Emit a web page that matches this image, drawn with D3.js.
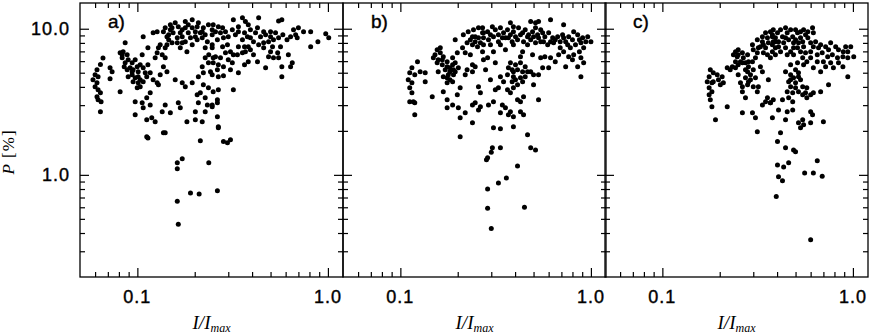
<!DOCTYPE html>
<html><head><meta charset="utf-8">
<script src="https://cdn.jsdelivr.net/npm/d3@7"></script>
<style>body{margin:0;background:#fff}svg{display:block}</style>
</head><body>
<script>
// ---- data ----
const panelLabels = ["a)", "b)", "c)"];
const xDomain = [0.05, 1.2];
const yDomain = [0.2, 15];
const xMajorTicks = [0.1, 1.0];
const xTickLabels = ["0.1", "1.0"];
const xMinorTicks = [0.06, 0.07, 0.08, 0.09, 0.2, 0.3, 0.4, 0.5, 0.6, 0.7, 0.8, 0.9];
const yMajorTicks = [1, 10];
const yTickLabels = ["1.0", "10.0"];
const yMinorTicks = [0.3, 0.4, 0.5, 0.6, 0.7, 0.8, 0.9, 2, 3, 4, 5, 6, 7, 8, 9];

const seriesA = [
[0.066,6.3],[0.064,5.7],[0.0614,5.24],[0.060,4.84],[0.0622,4.69],[0.0585,4.47],[0.0614,4.27],[0.060,4.01],[0.0622,3.82],[0.064,3.65],
[0.0614,3.42],[0.0622,3.26],[0.0645,3.16],[0.064,2.70],[0.0719,5.41],[0.0737,5.07],[0.0719,4.55],[0.0812,3.70],[0.0863,8.02],[0.0812,6.85],
[0.0842,6.96],[0.0884,6.64],[0.0832,6.33],[0.0895,6.13],[0.0863,5.85],[0.0939,5.85],[0.0974,6.13],[0.0916,5.41],[0.0884,5.24],[0.095,5.24],
[0.0998,5.49],[0.1035,5.67],[0.1073,5.41],[0.0939,4.84],[0.0974,4.62],[0.101,4.69],[0.095,4.34],[0.101,4.27],[0.1035,4.01],[0.1073,4.34],
[0.112,4.69],[0.1168,5.0],[0.1136,5.67],[0.106,6.64],[0.121,4.47],[0.127,4.27],[0.0974,3.16],[0.106,3.11],[0.112,3.37],[0.1168,3.65],
[0.1073,2.88],[0.1168,3.01],[0.0974,2.58],[0.112,2.38],[0.119,2.46],[0.124,2.31],[0.135,2.70],[0.149,2.66],[0.140,3.01],[0.164,3.11],
[0.168,2.88],[0.140,1.94],[0.1136,1.79],[0.214,1.71],[0.182,2.31],[0.2015,2.38],[0.219,2.31],[0.124,6.33],[0.127,6.85],[0.129,7.41],
[0.143,7.77],[0.135,6.64],[0.140,6.33],[0.1073,8.82],[0.121,9.39],[0.127,9.54],[0.140,10.16],[0.149,10.65],[0.158,11.0],[0.164,10.3],
[0.1785,11.2],[0.185,10.65],[0.194,11.5],[0.209,11.0],[0.222,10.16],[0.236,10.65],[0.247,9.84],[0.146,9.10],[0.154,9.39],[0.162,8.68],
[0.172,8.82],[0.1785,8.15],[0.152,8.02],[0.140,7.41],[0.194,7.77],[0.206,8.41],[0.219,8.68],[0.227,7.41],[0.247,7.77],[0.149,9.84],
[0.143,8.82],[0.172,9.84],[0.185,9.39],[0.2015,9.54],[0.214,9.39],[0.227,9.10],[0.182,6.96],[0.168,7.41],[0.227,6.33],[0.219,5.49],
[0.236,5.85],[0.250,6.33],[0.209,4.69],[0.222,5.0],[0.242,5.07],[0.222,4.14],[0.214,3.65],[0.236,3.95],[0.206,3.53],[0.227,3.37],
[0.209,3.11],[0.233,3.01],[0.247,2.92],[0.2015,2.70],[0.227,2.70],[0.172,4.27],[0.194,4.27],[0.1785,4.01],[0.129,4.14],[0.158,4.47],
[0.143,5.07],[0.137,5.49],[0.1318,4.84],[0.319,11.5],[0.356,11.9],[0.369,11.2],[0.433,11.9],[0.551,11.3],[0.573,11.5],[0.250,10.65],
[0.266,10.3],[0.280,10.16],[0.257,9.54],[0.273,9.39],[0.290,9.54],[0.247,9.10],[0.283,8.68],[0.263,8.41],[0.300,8.82],[0.315,9.84],
[0.327,9.10],[0.339,9.54],[0.365,9.39],[0.378,8.82],[0.356,8.41],[0.392,8.68],[0.417,9.39],[0.443,8.82],[0.471,9.10],[0.5,8.82],
[0.531,9.39],[0.58,9.10],[0.66,9.84],[0.70,10.16],[0.745,9.54],[0.812,9.54],[0.69,8.68],[0.974,9.25],[1.01,8.68],[0.886,8.15],
[0.812,7.53],[0.407,8.15],[0.433,7.77],[0.460,8.02],[0.488,8.15],[0.518,8.41],[0.551,8.68],[0.564,7.53],[0.460,7.41],[0.512,7.53],
[0.237,6.64],[0.257,6.43],[0.273,6.33],[0.290,6.85],[0.308,6.96],[0.319,6.64],[0.300,6.13],[0.315,5.85],[0.335,6.64],[0.356,6.85],
[0.369,6.96],[0.392,7.18],[0.407,6.64],[0.250,5.85],[0.266,5.67],[0.283,5.49],[0.263,5.24],[0.247,4.84],[0.266,4.69],[0.283,4.76],
[0.308,5.24],[0.339,5.0],[0.365,5.67],[0.382,5.94],[0.427,5.94],[0.471,5.41],[0.488,6.43],[0.518,6.33],[0.551,6.33],[0.5,6.96],
[0.545,6.85],[0.573,5.49],[0.573,4.69],[0.62,6.64],[0.65,5.85],[0.637,5.49],[0.250,3.70],[0.266,3.82],[0.319,3.82],[0.247,3.01],
[0.263,3.26],[0.263,3.11],[0.263,2.50],[0.266,2.10],[0.283,1.69],[0.297,1.66],[0.308,1.74],[0.112,1.82],[0.137,1.94],[0.172,1.29],
[0.162,1.21],[0.237,1.21],[0.266,2.13],[0.162,1.10],[0.190,0.75],[0.211,0.74],[0.263,0.78],[0.162,0.66],[0.164,0.46],
[0.137,9.54],[0.152,10.16],[0.168,9.39],[0.1785,10.16],[0.194,10.16],[0.206,10.3],[0.219,9.54],[0.162,8.02],[0.172,8.02],[0.190,8.68],
[0.2015,8.82],[0.233,8.15],[0.146,8.41],[0.1318,7.77],[0.1136,7.41],[0.0832,6.64],[0.0853,5.49],[0.0939,5.07],[0.101,5.07],[0.0895,4.69],
[0.0998,3.95],[0.1035,4.47],[0.110,5.0],[0.247,7.41],[0.280,7.53],[0.297,7.77],[0.339,7.53],[0.365,7.53],[0.382,7.53],[0.61,8.41],
[0.637,8.82],[0.677,9.10],[0.5,9.54],[0.46,9.54],[0.427,10.16],[0.392,9.84],[0.339,10.3],[0.382,10.65]
];

const seriesB = [
[0.194,8.41],[0.214,9.10],[0.227,9.54],[0.242,9.84],[0.239,8.82],[0.257,10.16],[0.270,9.39],[0.247,8.15],[0.263,8.02],[0.254,7.53],
[0.273,7.77],[0.219,6.85],[0.233,6.64],[0.270,6.96],[0.273,6.13],[0.156,7.18],[0.152,6.64],[0.162,6.85],[0.149,6.33],[0.158,6.13],
[0.168,6.43],[0.176,5.94],[0.166,5.67],[0.188,6.33],[0.194,5.85],[0.2015,5.41],[0.182,5.41],[0.172,5.24],[0.1785,4.84],[0.190,4.84],
[0.168,4.69],[0.182,4.47],[0.176,4.27],[0.194,5.07],[0.123,5.94],[0.115,5.41],[0.112,5.0],[0.119,4.84],[0.127,5.07],[0.135,5.0],
[0.135,4.34],[0.110,4.47],[0.115,4.27],[0.112,3.95],[0.115,3.65],[0.112,3.16],[0.117,3.16],[0.119,3.11],[0.119,2.58],[0.147,3.42],
[0.168,3.70],[0.176,3.26],[0.199,3.53],[0.206,3.95],[0.176,2.88],[0.188,3.01],[0.2015,2.88],[0.206,2.46],[0.219,2.66],[0.239,3.01],
[0.247,3.11],[0.239,2.27],[0.257,2.78],[0.219,4.84],[0.224,5.24],[0.239,5.07],[0.247,5.49],[0.239,5.67],[0.257,4.01],[0.263,3.65],
[0.206,1.82],[0.378,11.0],[0.392,10.3],[0.483,11.2],[0.512,11.0],[0.531,11.2],[0.614,11.5],[0.719,10.65],[0.512,10.16],[0.545,9.84],
[0.270,10.16],[0.287,9.54],[0.304,10.3],[0.315,9.84],[0.335,10.16],[0.348,9.39],[0.365,9.84],[0.378,9.10],[0.392,9.54],[0.417,10.16],
[0.438,9.39],[0.452,9.84],[0.471,9.10],[0.494,9.54],[0.525,9.10],[0.558,9.39],[0.573,8.82],[0.600,9.39],[0.630,8.68],[0.669,8.82],
[0.69,8.15],[0.719,8.68],[0.764,8.82],[0.812,9.54],[0.852,9.10],[0.905,8.68],[0.962,8.82],[1.0,8.15],[0.273,8.68],[0.290,8.41],
[0.308,8.82],[0.327,8.15],[0.356,8.68],[0.386,8.15],[0.412,8.41],[0.443,8.15],[0.483,8.41],[0.512,8.02],[0.545,8.15],[0.593,7.77],
[0.637,8.02],[0.755,7.77],[0.78,7.41],[0.83,7.77],[0.886,8.02],[0.916,7.41],[0.719,6.96],[0.764,6.43],[0.812,6.64],[0.886,6.33],
[0.916,5.85],[0.737,5.49],[0.852,5.49],[0.65,5.94],[0.677,6.64],[0.614,6.33],[0.573,6.43],[0.545,6.33],[0.494,6.64],[0.438,6.96],
[0.427,6.43],[0.356,7.18],[0.886,4.69],[0.287,6.33],[0.315,5.85],[0.280,5.24],[0.378,5.85],[0.402,5.67],[0.427,5.85],[0.452,5.49],
[0.386,5.24],[0.412,5.24],[0.365,4.84],[0.392,4.69],[0.427,4.62],[0.452,4.69],[0.386,4.34],[0.412,4.14],[0.483,5.07],[0.5,4.84],
[0.531,4.84],[0.5,4.14],[0.558,5.41],[0.600,5.41],[0.297,4.47],[0.315,3.82],[0.327,3.95],[0.365,3.82],[0.378,3.65],[0.392,3.95],
[0.443,3.42],[0.412,3.26],[0.427,3.16],[0.531,3.26],[0.308,3.16],[0.290,3.01],[0.343,3.01],[0.356,2.88],[0.378,2.70],[0.335,2.66],
[0.369,2.58],[0.427,2.70],[0.443,2.58],[0.263,2.92],[0.392,2.50],[0.308,2.10],[0.335,2.07],[0.392,2.13],[0.465,1.88],[0.304,1.53],
[0.335,1.53],[0.483,1.53],[0.512,1.48],[0.283,1.27],[0.412,1.15],[0.36,0.95],[0.327,0.88],[0.287,0.80],[0.287,0.59],[0.448,0.60],
[0.300,0.43],[0.300,1.43],[0.287,1.31],
[0.273,9.39],[0.297,9.10],[0.327,9.10],[0.343,8.68],[0.369,8.68],[0.402,8.82],[0.427,9.10],[0.465,8.82],[0.5,8.82],[0.531,8.68],
[0.564,8.15],[0.614,8.15],[0.65,8.41],[0.71,9.10],[0.737,8.15],[0.80,8.41],[0.87,8.41],[0.94,8.15],[0.87,6.96],[0.80,6.13],
[0.69,7.41],[0.465,7.77],[0.392,7.77],[0.335,7.77],[0.297,7.77],[0.308,6.96],[0.162,7.41],[0.156,5.85],[0.166,6.13],[0.176,5.49],
[0.188,5.67],[0.190,5.24],[0.182,5.07],[0.176,4.62],[0.188,4.34],[0.158,5.07],[0.224,8.02],[0.239,7.77],[0.247,8.82],[0.233,8.41],
[0.257,8.68],[0.212,7.41],[0.199,6.85],[0.369,5.41],[0.392,5.07],[0.438,5.07],[0.465,5.07],[0.402,4.47],[0.438,4.34],[0.348,4.34],
[0.335,4.69]
];

const seriesC = [
[0.1785,5.24],[0.185,5.0],[0.176,4.69],[0.194,4.84],[0.206,4.69],[0.172,4.34],[0.182,4.27],[0.2015,4.14],[0.209,4.27],[0.176,3.95],
[0.182,3.70],[0.176,3.53],[0.1785,3.26],[0.182,2.92],[0.190,2.38],[0.219,2.92],[0.219,5.41],[0.233,5.49],[0.242,5.41],[0.250,4.84],
[0.257,4.27],[0.263,4.01],[0.263,3.70],[0.273,3.37],[0.263,2.66],[0.297,2.66],[0.308,2.46],[0.315,1.97],[0.242,6.96],[0.250,7.18],
[0.263,6.85],[0.247,6.43],[0.266,6.33],[0.280,6.64],[0.257,5.94],[0.273,5.85],[0.283,5.49],[0.297,5.94],[0.308,6.33],[0.280,5.07],
[0.290,4.84],[0.273,4.62],[0.283,4.34],[0.300,5.24],[0.308,4.62],[0.300,4.01],[0.327,5.49],[0.335,5.07],[0.297,7.77],[0.315,8.41],
[0.335,8.82],[0.348,9.39],[0.369,9.54],[0.327,7.53],[0.348,7.41],[0.36,8.02],[0.339,6.85],[0.378,6.96],[0.369,6.33],[0.319,4.01],
[0.315,3.70],[0.36,4.47],[0.356,3.37],[0.335,3.01],[0.369,3.11],[0.348,3.16],[0.378,2.46],[0.471,9.84],[0.551,9.84],[0.614,10.16],
[0.564,9.10],[0.62,9.39],[0.378,9.10],[0.402,9.39],[0.427,8.82],[0.452,9.39],[0.483,8.82],[0.512,9.39],[0.531,8.68],[0.58,8.68],
[0.382,8.15],[0.407,8.15],[0.433,8.02],[0.460,8.41],[0.488,8.02],[0.518,8.02],[0.551,7.53],[0.600,8.02],[0.637,8.15],[0.677,7.77],
[0.719,7.53],[0.764,8.02],[0.812,7.53],[0.916,7.53],[0.974,7.53],[1.01,6.43],[0.392,7.41],[0.417,6.96],[0.443,7.41],[0.471,6.96],
[0.512,7.41],[0.564,6.85],[0.600,6.96],[0.65,6.64],[0.69,6.85],[0.737,6.43],[0.78,6.64],[0.83,6.33],[0.886,6.43],[0.94,6.33],
[0.600,6.33],[0.65,5.94],[0.70,5.94],[0.764,5.85],[0.84,5.85],[0.886,5.49],[0.545,6.33],[0.512,5.85],[0.551,5.67],[0.62,5.41],
[0.677,5.07],[0.94,4.69],[0.443,5.07],[0.471,4.84],[0.5,5.24],[0.518,5.0],[0.488,4.62],[0.460,4.34],[0.5,4.27],[0.531,4.47],
[0.471,4.01],[0.452,3.70],[0.483,3.65],[0.518,3.70],[0.545,3.53],[0.564,3.65],[0.573,3.95],[0.62,3.65],[0.677,3.70],[0.745,4.14],
[0.427,3.26],[0.460,3.37],[0.483,3.16],[0.382,3.26],[0.369,3.11],[0.407,2.78],[0.452,2.70],[0.483,2.78],[0.600,2.70],[0.614,2.58],
[0.443,2.38],[0.545,2.38],[0.518,2.27],[0.531,2.10],[0.551,2.20],[0.600,2.27],[0.70,2.31],[0.417,1.94],[0.402,1.69],[0.443,1.53],
[0.488,1.48],[0.402,1.17],[0.433,1.13],[0.460,1.21],[0.65,1.25],[0.407,0.97],[0.427,0.91],[0.396,0.71],[0.558,1.03],[0.62,1.03],
[0.69,0.98],[0.600,0.36],[0.5,1.44],
[0.236,6.64],[0.250,6.64],[0.263,5.85],[0.250,5.67],[0.242,5.94],[0.273,5.24],[0.283,5.94],[0.290,4.47],[0.280,4.14],[0.300,7.18],
[0.319,7.41],[0.339,7.77],[0.356,8.68],[0.378,8.82],[0.392,8.15],[0.335,8.15],[0.315,6.85],[0.356,6.64],[0.392,6.64],[0.227,5.24],
[0.185,4.34],[0.197,4.47],[0.382,9.84],[0.417,9.84],[0.443,10.16],[0.5,9.84],[0.531,9.54],[0.58,9.54],[0.392,8.68],[0.443,8.68],
[0.5,8.41],[0.545,8.15],[0.62,7.53],[0.66,7.41],[0.745,7.18],[0.84,7.18],[0.89,6.96],[0.94,6.96],[0.378,7.77],[0.407,7.53],
[0.488,7.41],[0.531,6.96],[0.488,6.64],[0.452,6.64],[0.719,5.49],[0.79,5.41],[0.573,5.94],[0.471,5.67],[0.518,4.69],[0.471,4.47],
[0.5,3.95],[0.545,4.01],[0.600,3.53],[0.573,3.37]
];

const series = [seriesA, seriesB, seriesC];

// ---- layout ----
const W = 872, H = 335;
const panelLefts = [80, 343, 605];
const panelW = 263;
const plotTop = 3, plotBottom = 277;
const sans = "Liberation Sans, Arial, Helvetica, sans-serif";
const serif = "Liberation Serif, Times New Roman, serif";

const svg = d3.select("body").append("svg").attr("width", W).attr("height", H);

const yScale = d3.scaleLog().domain(yDomain).range([plotBottom, plotTop]);

panelLefts.forEach((left, i) => {
  const x = d3.scaleLog().domain(xDomain).range([left, left + panelW]);
  const g = svg.append("g");

  // points
  g.selectAll("circle").data(series[i]).join("circle")
    .attr("cx", d => x(d[0])).attr("cy", d => yScale(d[1]))
    .attr("r", 2.5).attr("fill", "#000");

  // axes (ticks inward on all four sides)
  const mk = (axisFn, scale, ticks, size) => axisFn(scale).tickValues(ticks).tickSize(size).tickFormat("");
  const drawAxis = (axis, tx, ty) => {
    const a = g.append("g").attr("transform", `translate(${tx},${ty})`).call(axis);
    a.select(".domain").remove();
    a.selectAll("line").attr("stroke", "#000").attr("stroke-width", 1.2);
  };
  drawAxis(mk(d3.axisTop, x, xMajorTicks, 9), 0, plotBottom);
  drawAxis(mk(d3.axisTop, x, xMinorTicks, 5), 0, plotBottom);
  drawAxis(mk(d3.axisBottom, x, xMajorTicks, 9), 0, plotTop);
  drawAxis(mk(d3.axisBottom, x, xMinorTicks, 5), 0, plotTop);
  drawAxis(mk(d3.axisRight, yScale, yMajorTicks, 9), left, 0);
  drawAxis(mk(d3.axisRight, yScale, yMinorTicks, 5), left, 0);
  drawAxis(mk(d3.axisLeft, yScale, yMajorTicks, 9), left + panelW, 0);
  drawAxis(mk(d3.axisLeft, yScale, yMinorTicks, 5), left + panelW, 0);

  // frame
  g.append("rect").attr("x", left).attr("y", plotTop).attr("width", panelW).attr("height", plotBottom - plotTop)
    .attr("fill", "none").attr("stroke", "#000").attr("stroke-width", 1.3);

  // x tick labels
  g.selectAll("text.xt").data(xMajorTicks).join("text").attr("class", "xt")
    .attr("x", d => x(d)).attr("y", 303).attr("text-anchor", "middle")
    .attr("font-family", sans).attr("font-size", 18)
    .attr("letter-spacing", 1).attr("stroke", "#000").attr("stroke-width", 0.4)
    .text((d, j) => xTickLabels[j]);

  // x axis title
  const t = g.append("text").attr("x", left + panelW / 2).attr("y", 329).attr("text-anchor", "middle")
    .attr("font-family", serif).attr("font-style", "italic").attr("font-size", 19);
  t.append("tspan").text("I/I");
  t.append("tspan").attr("font-size", 12).attr("dy", 3).text("max");

  // panel label
  g.append("text").attr("x", left + 28).attr("y", 28)
    .attr("font-family", sans).attr("font-size", 19)
    .attr("stroke", "#000").attr("stroke-width", 0.4)
    .text(panelLabels[i]);

  if (i === 0) {
    g.selectAll("text.yt").data(yMajorTicks).join("text").attr("class", "yt")
      .attr("x", 70).attr("y", d => yScale(d) + 6.5).attr("text-anchor", "end")
      .attr("font-family", sans).attr("font-size", 18)
      .attr("letter-spacing", 1).attr("stroke", "#000").attr("stroke-width", 0.4)
      .text((d, j) => yTickLabels[j]);
  }
});

// y axis title
const ytitle = svg.append("text").attr("transform", "translate(14,152) rotate(-90)").attr("text-anchor", "middle")
  .attr("font-family", serif).attr("font-size", 17).attr("letter-spacing", 1);
ytitle.append("tspan").attr("font-style", "italic").text("P");
ytitle.append("tspan").text(" [%]");
</script>
</body></html>
